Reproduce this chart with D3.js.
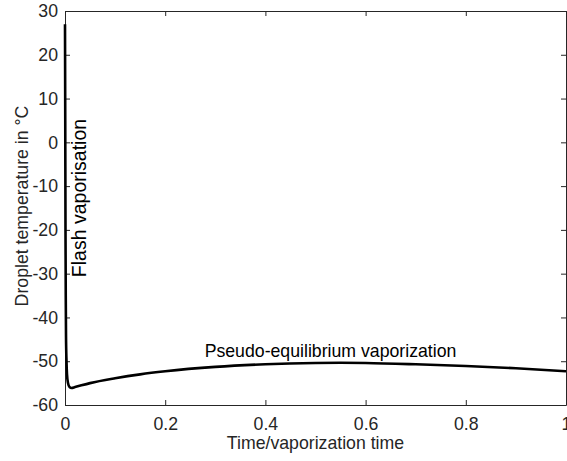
<!DOCTYPE html>
<html>
<head>
<meta charset="utf-8">
<script src="https://cdn.jsdelivr.net/npm/d3@7"></script>
<style>
body { margin: 0; background: #fff; }
text { font-family: "Liberation Sans", Arial, sans-serif; }
</style>
</head>
<body>
<svg width="567" height="461"></svg>
<script>
// normalized time and droplet temperature
var timeVals = [0, 0.0005, 0.001, 0.0015, 0.002, 0.003, 0.004, 0.006, 0.009, 0.013, 0.02, 0.05, 0.1, 0.15, 0.2, 0.3, 0.4, 0.5, 0.55, 0.6, 0.7, 0.8, 0.9, 1.0];
var tempVals = [27, 5, -20, -35, -44, -50, -53, -55, -55.9, -56.1, -55.9, -55.0, -53.9, -53.0, -52.3, -51.3, -50.7, -50.4, -50.35, -50.4, -50.7, -51.1, -51.6, -52.3];
var xTicks = [0, 0.2, 0.4, 0.6, 0.8, 1];
var yTicks = [30, 20, 10, 0, -10, -20, -30, -40, -50, -60];

var svg = d3.select("svg");
var margin = {left: 65, right: 1, top: 11, bottom: 56};
var W = 567, H = 461;
var fs = "17.7px";

var x = d3.scaleLinear().domain([0, 1]).range([margin.left, W - margin.right]);
var y = d3.scaleLinear().domain([-60, 30]).range([H - margin.bottom, margin.top]);

var axisColor = "#262626";
var fmt = function (d) { return String(d); };

// bottom axis
svg.append("g").attr("transform", "translate(0," + y(-60) + ")")
    .call(d3.axisBottom(x).tickValues(xTicks).tickFormat(fmt).tickSizeInner(-5).tickSizeOuter(0).tickPadding(12));
// top axis (mirrored ticks)
svg.append("g").attr("transform", "translate(0," + y(30) + ")")
    .call(d3.axisTop(x).tickValues(xTicks).tickFormat("").tickSizeInner(-5).tickSizeOuter(0));
// left axis
svg.append("g").attr("transform", "translate(" + x(0) + ",0)")
    .call(d3.axisLeft(y).tickValues(yTicks).tickFormat(fmt).tickSizeInner(-5).tickSizeOuter(0).tickPadding(7));
// right axis
svg.append("g").attr("transform", "translate(" + x(1) + ",0)")
    .call(d3.axisRight(y).tickValues(yTicks).tickFormat("").tickSizeInner(-5).tickSizeOuter(0));

svg.selectAll(".domain").attr("stroke", axisColor).attr("stroke-width", 1);
svg.selectAll(".tick line").attr("stroke", axisColor).attr("stroke-width", 1);
svg.selectAll(".tick text").attr("fill", axisColor).style("font-size", fs)
    .style("font-family", "'Liberation Sans', Arial, sans-serif");

// the curve
var line = d3.line()
    .x(function (d) { return x(d[0]); })
    .y(function (d) { return y(d[1]); })
    .curve(d3.curveMonotoneX);

svg.append("path")
    .datum(d3.zip(timeVals, tempVals))
    .attr("d", line)
    .attr("fill", "none")
    .attr("stroke", "#000")
    .attr("stroke-width", 2.6)
    .attr("stroke-linejoin", "round");

// annotations
svg.append("text")
    .attr("transform", "translate(86,198) rotate(-90)")
    .attr("text-anchor", "middle")
    .style("font-size", "19.5px")
    .text("Flash vaporisation");

svg.append("text")
    .attr("x", 330.5).attr("y", 357)
    .attr("text-anchor", "middle")
    .style("font-size", fs)
    .text("Pseudo-equilibrium vaporization");

// axis labels
svg.append("text")
    .attr("x", (x(0) + x(1)) / 2).attr("y", 449)
    .attr("text-anchor", "middle")
    .attr("fill", axisColor)
    .style("font-size", fs)
    .text("Time/vaporization time");

svg.append("text")
    .attr("transform", "translate(28," + 206 + ") rotate(-90)")
    .attr("text-anchor", "middle")
    .attr("fill", axisColor)
    .style("font-size", fs)
    .text("Droplet temperature in °C");
</script>
</body>
</html>
